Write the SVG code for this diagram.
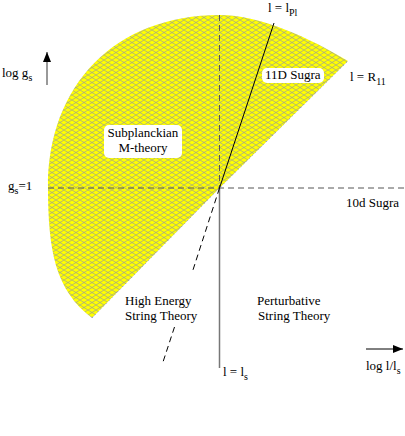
<svg xmlns="http://www.w3.org/2000/svg" width="405" height="436" viewBox="0 0 405 436">
<defs>
<pattern id="hatch" patternUnits="userSpaceOnUse" width="8" height="5">
<rect width="8" height="5" fill="#ffff00"/>
<path d="M0,0 L8,5 M0,5 L8,0" stroke="#7a80c4" stroke-width="0.55" fill="none"/>
</pattern>
<marker id="ah" viewBox="0 0 10 8" refX="10" refY="4" markerWidth="10" markerHeight="8" markerUnits="userSpaceOnUse" orient="auto">
<path d="M0,0 L10,4 L0,8 Z" fill="#000"/>
</marker>
<style>
.sub{font-size:10px}
.dash{stroke:#555;stroke-width:1;stroke-dasharray:6,4;fill:none}
.box{fill:#fff}
</style>
</defs>
<g id="region">
<path d="M219.5,188 L348,61 C310,38 260,15 220,15 C115,15 48,85 48,187 C48,250 55,290 92,318 Z" fill="url(#hatch)"/>
<path d="M92,318 L219.5,188 L348,61" stroke="#2030ff" stroke-width="0.7" stroke-dasharray="1,3" fill="none" opacity="0.7"/>
</g>
<g id="connectors">
<line class="dash" x1="48" y1="188" x2="405" y2="188"/>
<line class="dash" x1="219.5" y1="15" x2="219.5" y2="188"/>
<line x1="219.5" y1="188" x2="219.5" y2="368" stroke="#777" stroke-width="1.5"/>
<line x1="219.5" y1="188" x2="274" y2="23" stroke="#000" stroke-width="1"/>
<path d="M219.5,188 L192,273 M174.5,327 L163,362" stroke="#000" stroke-width="1" stroke-dasharray="6,4" fill="none"/>
<line x1="47" y1="85" x2="47" y2="52" stroke="#777" stroke-width="1.5" marker-end="url(#ah)"/>
<line x1="366" y1="349" x2="403" y2="349" stroke="#000" stroke-width="1" marker-end="url(#ah)"/>
</g>
<g font-family="Liberation Serif" font-size="13" fill="#000">
<g id="subplanckian">
<rect class="box" x="104" y="125" width="78" height="33" rx="5"/>
<text x="143" y="137" text-anchor="middle">Subplanckian</text>
<text x="143" y="152" text-anchor="middle">M-theory</text>
</g>
<g id="sugra11">
<rect class="box" x="262" y="68" width="62" height="15" rx="5"/>
<text x="265" y="79">11D Sugra</text>
</g>
<g id="lpl"><text x="268" y="12">l = l<tspan class="sub" dy="4">Pl</tspan></text></g>
<g id="lr11"><text x="350" y="81">l = R<tspan class="sub" dy="4">11</tspan></text></g>
<g id="loggs"><text x="2" y="77">log g<tspan class="sub" dy="4">s</tspan></text></g>
<g id="gs1"><text x="8" y="190">g<tspan class="sub" dy="4">s</tspan><tspan dy="-4">=1</tspan></text></g>
<g id="sugra10"><text x="346" y="207">10d Sugra</text></g>
<g id="highenergy">
<text x="125" y="305">High Energy</text>
<text x="125" y="320">String Theory</text>
</g>
<g id="perturbative">
<text x="257" y="305">Perturbative</text>
<text x="258" y="320">String Theory</text>
</g>
<g id="lls"><text x="223" y="376">l = l<tspan class="sub" dy="4">s</tspan></text></g>
<g id="logl"><text x="366" y="370">log l/l<tspan class="sub" dy="4">s</tspan></text></g>
</g>
</svg>
